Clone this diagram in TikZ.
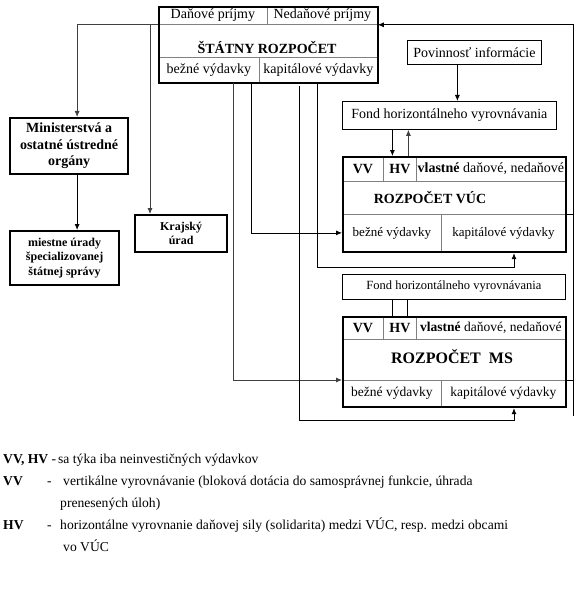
\documentclass[tikz,border=0pt]{standalone}
\usepackage{fontspec}
\setmainfont{Liberation Serif}
\usetikzlibrary{arrows.meta}

\begin{document}
\begin{tikzpicture}[x=1pt,y=-1pt,
    bigbox/.style={draw,line width=2.2pt,anchor=north west,inner sep=0pt},
    cell/.style={draw=gray,line width=0.8pt,anchor=north west,inner sep=1pt,font=\fontsize{14}{16}\selectfont},
    thinbox/.style={draw,line width=0.8pt,anchor=north west,inner sep=1pt,font=\fontsize{14}{16}\selectfont},
    boldbox/.style={draw,line width=2.2pt,anchor=north west,inner sep=1pt,align=center,font=\bfseries\fontsize{14}{16.5}\selectfont},
    ttl/.style={font=\bfseries\fontsize{14}{16}\selectfont,inner sep=0pt},
    legend/.style={anchor=west,inner sep=0pt,text height=10pt,text depth=3pt,font=\fontsize{13.6}{16}\selectfont},
    link/.style={line width=0.8pt,-{Latex[length=6pt,width=5pt]}},
    wire/.style={line width=0.8pt},
    grey/.style={draw=gray!50!black}]
    \useasboundingbox (0,0) rectangle (583,599);

    \node[cell,minimum width=109pt,minimum height=18pt] (srDan) at (158,6) {Daňové príjmy};
    \node[cell,minimum width=110pt,minimum height=18pt] (srNed) at (267,6) {Nedaňové príjmy};
    \node[cell,minimum width=101pt,minimum height=25pt] (srBez) at (158,57) {bežné výdavky};
    \node[cell,minimum width=118pt,minimum height=25pt] (srKap) at (259,57) {kapitálové výdavky};
    \node[bigbox,minimum width=219pt,minimum height=76pt] (sr) at (158,6) {};
    \node[ttl] (srTitle) at (267,47) {ŠTÁTNY ROZPOČET};

    \node[boldbox,minimum width=118pt,minimum height=56pt] (min) at (9,117) {Ministerstvá a\\ostatné ústredné\\orgány};
    \node[boldbox,minimum width=109pt,minimum height=54pt,font=\bfseries\fontsize{12}{14.5}\selectfont] (miest) at (9,230) {miestne úrady\\špecializovanej\\štátnej správy};
    \node[boldbox,minimum width=92pt,minimum height=37pt,font=\bfseries\fontsize{12}{14}\selectfont] (kraj) at (134,214) {Krajský\\úrad};

    \node[thinbox,minimum width=134pt,minimum height=24pt] (pov) at (407,40) {Povinnosť informácie};
    \node[thinbox,minimum width=214pt,minimum height=28pt] (fondA) at (342,101) {Fond horizontálneho vyrovnávania};
    \node[thinbox,minimum width=223pt,minimum height=25pt,font=\fontsize{12.5}{15}\selectfont] (fondB) at (342,274) {Fond horizontálneho vyrovnávania};

    \node[cell,minimum width=41pt,minimum height=25pt,font=\bfseries\fontsize{14}{16}\selectfont] (vucVV) at (342,156) {VV};
    \node[cell,minimum width=33pt,minimum height=25pt,font=\bfseries\fontsize{14}{16}\selectfont] (vucHV) at (383,156) {HV};
    \node[cell,minimum width=149pt,minimum height=25pt,inner sep=0pt] (vucVl) at (416,156) {\textbf{vlastné} daňové, nedaňové};
    \node[cell,minimum width=99pt,minimum height=37pt,font=\fontsize{13}{15}\selectfont] (vucBez) at (342,214) {bežné výdavky};
    \node[cell,minimum width=124pt,minimum height=37pt,font=\fontsize{13}{15}\selectfont] (vucKap) at (441,214) {kapitálové výdavky};
    \node[bigbox,minimum width=223pt,minimum height=95pt] (vuc) at (342,156) {};
    \node[ttl] (vucTitle) at (430,198) {ROZPOČET VÚC};

    \node[cell,minimum width=41pt,minimum height=23pt,font=\bfseries\fontsize{14}{16}\selectfont] (msVV) at (342,316) {VV};
    \node[cell,minimum width=33pt,minimum height=23pt,font=\bfseries\fontsize{14}{16}\selectfont] (msHV) at (383,316) {HV};
    \node[cell,minimum width=149pt,minimum height=23pt,inner sep=0pt,font=\fontsize{13.5}{16}\selectfont] (msVl) at (416,316) {\textbf{vlastné} daňové, nedaňové};
    \node[cell,minimum width=99pt,minimum height=26pt,font=\fontsize{13.5}{15}\selectfont] (msBez) at (342,380) {bežné výdavky};
    \node[cell,minimum width=124pt,minimum height=26pt,font=\fontsize{13.5}{15}\selectfont] (msKap) at (441,380) {kapitálové výdavky};
    \node[bigbox,minimum width=223pt,minimum height=90pt] (ms) at (342,316) {};
    \node[ttl,font=\bfseries\fontsize{16}{18}\selectfont] (msTitle) at (452,357) {ROZPOČET\ \ MS};

    \coordinate (krajTop) at (150,24);
    \coordinate (vucLoop) at (514,267);
    \coordinate (msLoop) at (514,420);
    \coordinate (rightEnd) at (573,416);

    \draw[link,grey] (srDan.south west) -| ([xshift=8pt]min.north);
    \draw[link,grey] (krajTop) -- (krajTop |- kraj.north);
    \draw[link] ([xshift=8pt]min.south) -- ([xshift=8pt]min.south |- miest.north);

    \draw[link,grey] ([xshift=24.5pt]srBez.south) |- (msBez.north west);
    \draw[link] ([xshift=42.5pt]srBez.south) |- (vucBez.west);
    \draw[link] ([xshift=-19pt,yshift=-3pt]srKap.south) |- (msLoop) -- (msLoop |- ms.south);
    \draw[link] ([xshift=-1pt]srKap.south) |- (vucLoop) -- (vucLoop |- vuc.south);

    \draw[link] (rightEnd) |- (srNed.south east);
    \draw[wire] (vucKap.north east) -- (vucKap.north east -| rightEnd);
    \draw[wire] (msKap.north east) -- (msKap.north east -| rightEnd);

    \draw[link] ([xshift=-17pt]pov.south) -- ([xshift=-17pt]pov.south |- fondA.north);
    \draw[link] ([xshift=-57pt]fondA.south) -- ([xshift=-57pt]fondA.south |- vuc.north);
    \draw[link,grey] ([xshift=-41pt]fondA.south |- vuc.north) -- ([xshift=-41pt]fondA.south);
    \draw[wire] ([xshift=-61.5pt]fondB.south) -- ([xshift=-61.5pt]fondB.south |- ms.north);
    \draw[wire] ([xshift=-46.5pt]fondB.south) -- ([xshift=-46.5pt]fondB.south |- ms.north);

    \node[legend] (lgHead) at (3,460) {\textbf{VV, HV} -};
    \node[legend] (lgHeadTxt) at (58,460) {sa týka iba neinvestičných výdavkov};
    \node[legend] (lgVV) at (3,482) {\textbf{VV}};
    \node[legend] (lgVVdash) at (47,482) {-};
    \node[legend] (lgVVtxt) at (63,482) {vertikálne vyrovnávanie (bloková dotácia do samosprávnej funkcie, úhrada};
    \node[legend] (lgVVtxt2) at (60,504) {prenesených úloh)};
    \node[legend] (lgHV) at (3,526) {\textbf{HV}};
    \node[legend] (lgHVdash) at (47,526) {-};
    \node[legend] (lgHVtxt) at (60,526) {horizontálne vyrovnanie daňovej sily (solidarita) medzi VÚC, resp. medzi obcami};
    \node[legend] (lgHVtxt2) at (63,548) {vo VÚC};
\end{tikzpicture}
\end{document}
